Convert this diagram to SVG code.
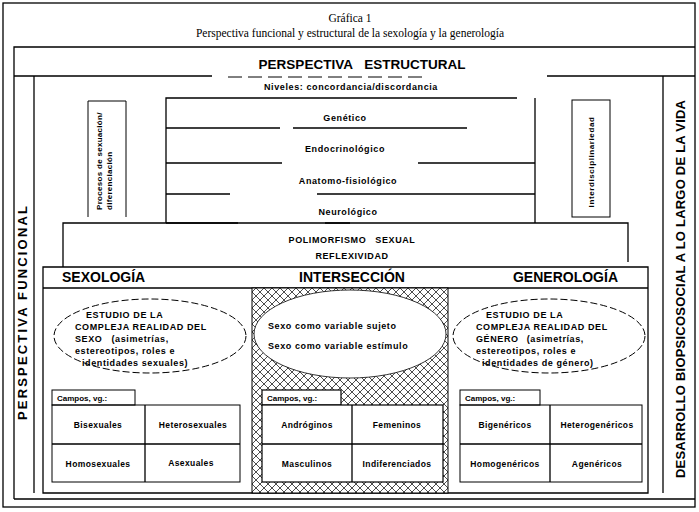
<svg xmlns="http://www.w3.org/2000/svg" width="699" height="512" viewBox="0 0 699 512">
<style>
.ln{stroke:#000;stroke-width:1.3;fill:none}
.thin{stroke:#000;stroke-width:1;fill:none}
.t{font-family:"Liberation Sans",Arial,sans-serif;font-weight:bold;fill:#000}
.s9{font-size:9px;letter-spacing:0.6px}
.s8{font-size:8.5px;letter-spacing:0.4px}
.h{font-size:14px}
.serif{font-family:"Liberation Serif","Times New Roman",serif;fill:#000;font-size:11.5px}
.dash{stroke:#000;stroke-width:1;fill:none;stroke-dasharray:7 3}
.wbox{fill:#fff;stroke:#000;stroke-width:1.2}
</style>
<defs>
<pattern id="hatch" width="8" height="8" patternUnits="userSpaceOnUse">
<rect width="8" height="8" fill="#fff"/>
<path d="M0 0 L8 8 M8 0 L0 8" stroke="#000" stroke-width="0.7"/>
</pattern>
</defs>
<rect width="699" height="512" fill="#fff"/>

<g id="title" text-anchor="middle">
<text class="serif" x="350" y="22">Gráfica 1</text>
<text class="serif" x="350" y="37">Perspectiva funcional y estructural de la sexología y la generología</text>
</g>

<g id="connectors">
<rect class="ln" x="3" y="3" width="692" height="504"/>
<path class="ln" d="M14 499 V47 H695 M14 499 H695"/>
<path class="ln" d="M14 76 H212 M547 76 H695"/>
<path stroke="#000" stroke-width="1" stroke-dasharray="14 6" fill="none" d="M228 77 H428"/>
<path class="ln" d="M34 76 V493"/>
<path class="ln" d="M663 76 V493"/>
</g>

<g id="estructural">
<text class="t" x="362" y="69" text-anchor="middle" font-size="13.5" word-spacing="8">PERSPECTIVA ESTRUCTURAL</text>
</g>

<g id="niveles">
<text class="t s9" x="351" y="90" text-anchor="middle">Niveles: concordancia/discordancia</text>
</g>

<g id="funcional">
<text class="t" transform="translate(27,313) rotate(-90)" text-anchor="middle" font-size="13" textLength="214" lengthAdjust="spacing">PERSPECTIVA  FUNCIONAL</text>
</g>

<g id="desarrollo">
<text class="t" transform="translate(685,289) rotate(-90)" text-anchor="middle" font-size="13" textLength="378" lengthAdjust="spacing">DESARROLLO BIOPSICOSOCIAL A LO LARGO DE LA VIDA</text>
</g>

<g id="procesos">
<path class="thin" d="M88 217 V101 H126 V217"/>
<text class="t" font-size="8" letter-spacing="0.3" transform="translate(102,210) rotate(-90)">Procesos de sexuación/</text>
<text class="t" font-size="8" letter-spacing="0.3" transform="translate(112,210) rotate(-90)">diferenciación</text>
</g>

<g id="interdisciplinariedad">
<rect class="thin" x="572" y="100" width="38" height="117"/>
<text class="t" font-size="8" letter-spacing="0.6" transform="translate(594,162) rotate(-90)" text-anchor="middle">Interdisciplinariedad</text>
</g>

<g id="niveles-biologicos">
<path class="ln" d="M166 223 V98 H517 M535 98 V223"/>
<path class="ln" d="M166 128 H280 M293 128 H467"/>
<path class="ln" d="M166 163 H282 M418 163 H535"/>
<path class="ln" d="M166 194 H230 M317 194 H535"/>
<path class="ln" d="M166 223 H238 M325 223 H350"/>
<text class="t s9" x="345" y="121" text-anchor="middle">Genético</text>
<text class="t s9" x="345" y="152" text-anchor="middle">Endocrinológico</text>
<text class="t s9" x="348" y="184" text-anchor="middle">Anatomo-fisiológico</text>
<text class="t s9" x="348" y="215" text-anchor="middle">Neurológico</text>
</g>

<g id="polimorfismo">
<path class="ln" d="M63 267 V223 H628 V262"/>
<text class="t s9" x="352" y="243" text-anchor="middle" word-spacing="6">POLIMORFISMO SEXUAL</text>
<text class="t s9" x="352" y="259" text-anchor="middle">REFLEXIVIDAD</text>
</g>

<g id="panel">
<path class="ln" d="M43 267 H648 V493 H43 Z"/>
<path class="ln" d="M43 288 H648"/>
</g>

<g id="interseccion">
<rect x="252" y="288" width="196" height="205" fill="url(#hatch)" stroke="#000" stroke-width="1"/>
<ellipse cx="350" cy="334" rx="96" ry="44" fill="#fff" stroke="#000" stroke-width="0.8"/>
<text class="t h" x="352" y="282" text-anchor="middle">INTERSECCIÓN</text>
<text class="t s9" x="268" y="329" letter-spacing="0.8">Sexo como variable sujeto</text>
<text class="t s9" x="268" y="349" letter-spacing="0.8">Sexo como variable estímulo</text>
<rect class="wbox" x="262" y="390" width="79" height="15"/>
<text class="t" font-size="8" x="267" y="401">Campos, vg.:</text>
<rect class="wbox" x="262" y="405" width="181" height="77"/>
<path class="ln" d="M352 405 V482 M262 444 H443"/>
<text class="t s8" x="307" y="428" text-anchor="middle">Andróginos</text>
<text class="t s8" x="397" y="428" text-anchor="middle">Femeninos</text>
<text class="t s8" x="307" y="467" text-anchor="middle">Masculinos</text>
<text class="t s8" x="397" y="467" text-anchor="middle">Indiferenciados</text>
</g>

<g id="sexologia">
<text class="t h" x="62" y="282">SEXOLOGÍA</text>
<ellipse class="dash" cx="150" cy="336" rx="96" ry="37"/>
<text class="t s9" letter-spacing="0.3">
<tspan x="86" y="318">ESTUDIO DE LA</tspan>
<tspan x="75" y="330">COMPLEJA REALIDAD DEL</tspan>
<tspan x="75" y="342" word-spacing="6">SEXO (asimetrías,</tspan>
<tspan x="75" y="354">estereotipos, roles e</tspan>
<tspan x="82" y="366">identidades sexuales)</tspan>
</text>
<rect class="thin" x="52" y="390" width="83" height="15"/>
<text class="t" font-size="8" x="57" y="401">Campos, vg.:</text>
<rect class="thin" x="52" y="405" width="188" height="77"/>
<path class="ln" d="M145 405 V482 M52 444 H240"/>
<text class="t s8" x="98" y="428" text-anchor="middle">Bisexuales</text>
<text class="t s8" x="193" y="428" text-anchor="middle">Heterosexuales</text>
<text class="t s8" x="98" y="467" text-anchor="middle">Homosexuales</text>
<text class="t s8" x="191" y="466" text-anchor="middle">Asexuales</text>
</g>

<g id="generologia">
<text class="t h" x="618" y="282" text-anchor="end">GENEROLOGÍA</text>
<ellipse class="dash" cx="549" cy="336" rx="96" ry="37"/>
<text class="t s9" letter-spacing="0.3">
<tspan x="486" y="318">ESTUDIO DE LA</tspan>
<tspan x="476" y="330">COMPLEJA REALIDAD DEL</tspan>
<tspan x="476" y="342" word-spacing="5">GÉNERO (asimetrías,</tspan>
<tspan x="476" y="354">estereotipos, roles e</tspan>
<tspan x="482" y="366">identidades de género)</tspan>
</text>
<rect class="thin" x="460" y="390" width="80" height="15"/>
<text class="t" font-size="8" x="465" y="401">Campos, vg.:</text>
<rect class="thin" x="460" y="405" width="182" height="77"/>
<path class="ln" d="M550 405 V482 M460 444 H642"/>
<text class="t s8" x="505" y="428" text-anchor="middle">Bigenéricos</text>
<text class="t s8" x="597" y="428" text-anchor="middle">Heterogenéricos</text>
<text class="t s8" x="505" y="467" text-anchor="middle">Homogenéricos</text>
<text class="t s8" x="597" y="467" text-anchor="middle">Agenéricos</text>
</g>
</svg>
